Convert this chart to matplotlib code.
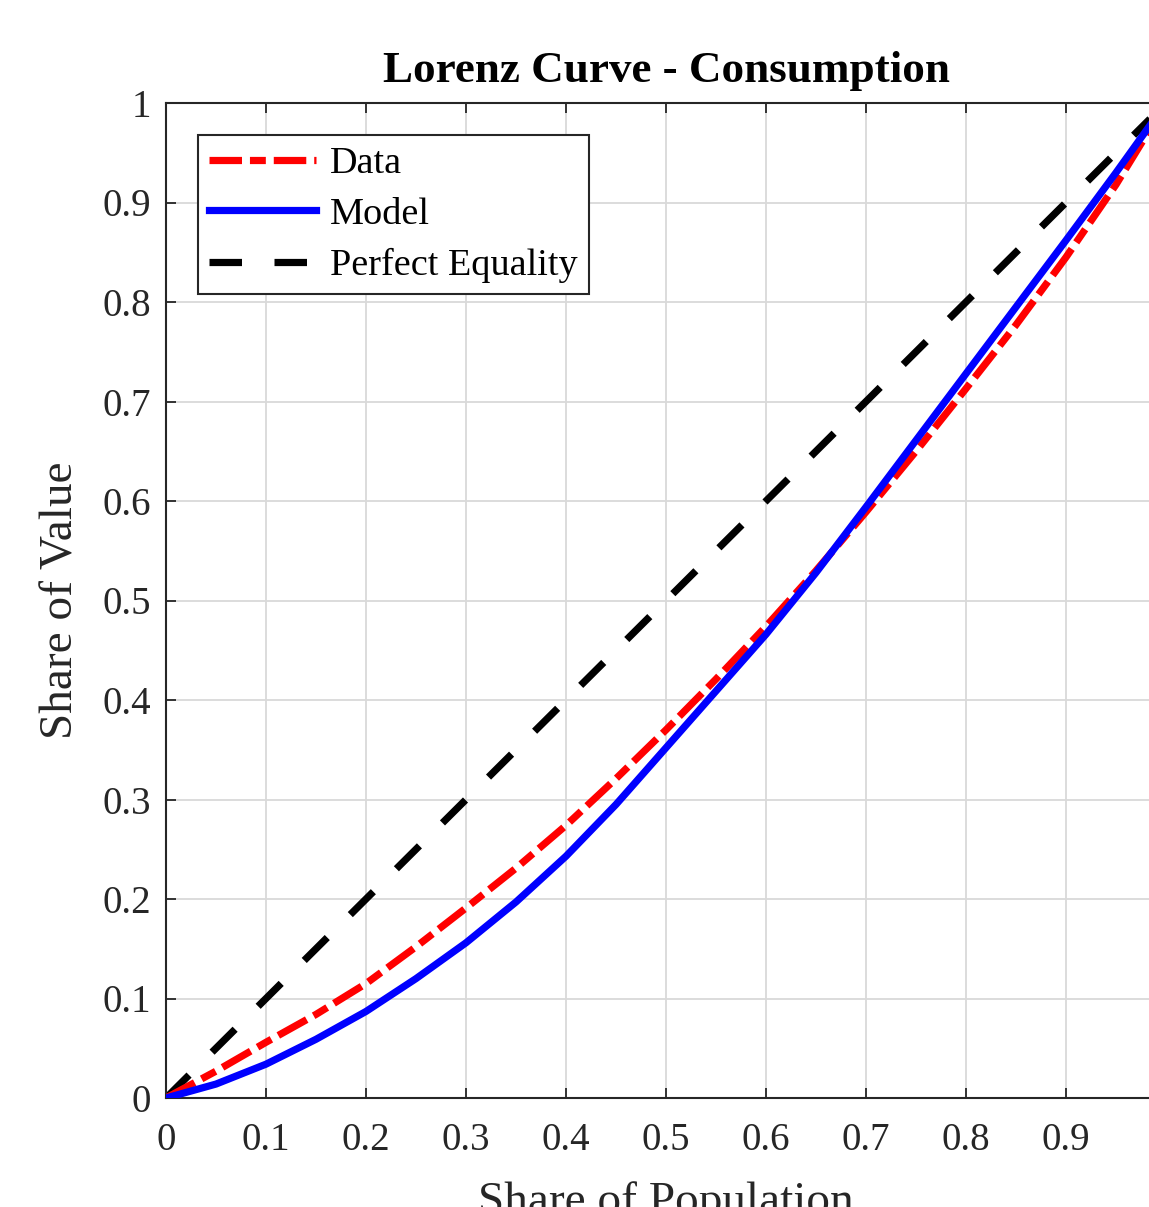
import matplotlib
matplotlib.use("Agg")
import matplotlib.pyplot as plt

# Lorenz curve readings: cumulative share of population vs cumulative share of consumption
population_share = [0.00, 0.05, 0.10, 0.15, 0.20, 0.25, 0.30, 0.35, 0.40, 0.45, 0.50,
                    0.55, 0.60, 0.65, 0.70, 0.75, 0.80, 0.85, 0.90, 0.95, 1.00]
data_share = [0.000, 0.027, 0.056, 0.084, 0.115, 0.152, 0.191, 0.231, 0.274, 0.321, 0.370,
              0.421, 0.474, 0.530, 0.589, 0.650, 0.713, 0.777, 0.845, 0.918, 1.000]
model_share = [0.000, 0.014, 0.034, 0.059, 0.087, 0.120, 0.156, 0.197, 0.243, 0.295, 0.352,
               0.409, 0.466, 0.528, 0.594, 0.661, 0.728, 0.795, 0.862, 0.930, 1.000]
equality_share = [0.0, 1.0]
equality_pop = [0.0, 1.0]

tick_values = [0, 0.1, 0.2, 0.3, 0.4, 0.5, 0.6, 0.7, 0.8, 0.9, 1]
tick_labels = ["0", "0.1", "0.2", "0.3", "0.4", "0.5", "0.6", "0.7", "0.8", "0.9", "1"]

plt.rcParams["font.family"] = ["Liberation Serif", "DejaVu Serif"]
dark = "#262626"

fig = plt.figure(figsize=(11.49, 12.07), dpi=100)
ax = fig.add_axes([166 / 1149, 109 / 1207, 1000 / 1149, 995 / 1207])

lw = 5.2
ax.plot(population_share, data_share, color="red", lw=lw,
        dashes=(4.5, 1.1, 2.2, 1.1), dash_capstyle="butt",
        solid_joinstyle="round", label="Data", zorder=3)
ax.plot(population_share, model_share, color="blue", lw=lw,
        solid_joinstyle="round", label="Model", zorder=4)
ax.plot(equality_pop, equality_share, color="black", lw=lw,
        dashes=(4.5, 4.5), dash_capstyle="butt", label="Perfect Equality", zorder=2)

ax.set_xlim(0, 1)
ax.set_ylim(0, 1)
ax.set_xticks(tick_values[:-1])
ax.set_xticklabels(tick_labels[:-1])
ax.set_yticks(tick_values)
ax.set_yticklabels(tick_labels)

ax.grid(True, color="#d9d9d9", lw=1.3)
ax.set_axisbelow(True)
ax.tick_params(direction="in", length=7, width=1.3, colors=dark,
               labelsize=28, top=True, right=True, pad=11)
ax.tick_params(axis="x", pad=17)
for side in ax.spines.values():
    side.set_color(dark)
    side.set_linewidth(1.5)

ax.set_title("Lorenz Curve - Consumption", fontsize=32.5, fontweight="bold", pad=15)
ax.set_xlabel("Share of Population", fontsize=34, color=dark, labelpad=16)
ax.set_ylabel("Share of Value", fontsize=34, color=dark, labelpad=14)

leg = ax.legend(loc="upper left", bbox_to_anchor=(0.032, 0.968), borderaxespad=0,
                fancybox=False, framealpha=1, edgecolor=dark, fontsize=27.5,
                handlelength=2.8, handletextpad=0.35, labelspacing=0.42, borderpad=0.3)
leg.get_frame().set_linewidth(1.5)

fig.savefig("out.png", dpi=100)
